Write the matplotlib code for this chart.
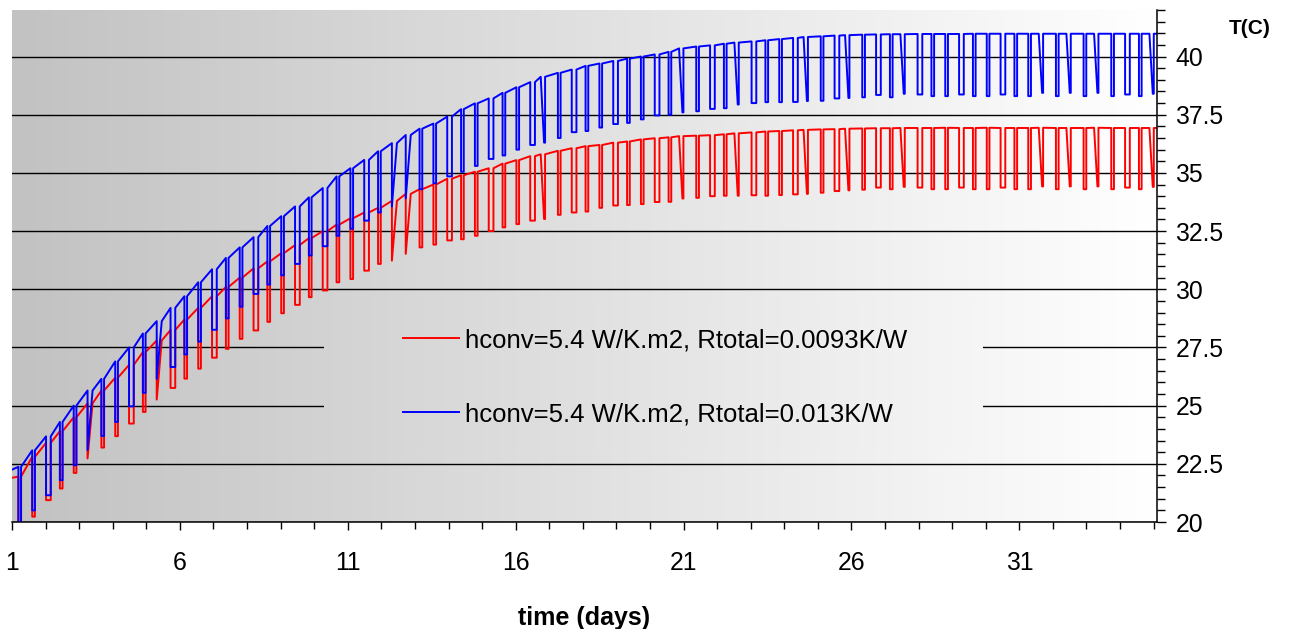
import numpy as np
import matplotlib
matplotlib.use("Agg")
import matplotlib.pyplot as plt
from matplotlib.colors import LinearSegmentedColormap
from matplotlib.patches import Rectangle
from matplotlib.ticker import FixedLocator, MultipleLocator, FuncFormatter

plt.rcParams['font.family'] = ['Liberation Sans', 'DejaVu Sans']

# one load cycle roughly every 10 hours, first drop just after day 1
n_cycles = 83
cycle_days = 1.19 + 0.412 * np.arange(n_cycles)
t_start, t_end = 1.0, 35.1

# dip shape per cycle: n = short spike, r = flat bottom, s = slow recovery, d = slow drop
shapes = ("nnrnnsnnrn" "srnnrnnrnn" "rnrnnrnssn" "nrnnrnnrdn" "rnnrnnrndn"
          "rndrnnrdnr" "dnrndrnnrn" "nrnndndndn" "rnd")

# Rtotal = 0.013 K/W : level just before each dip and bottom of the dip
blue_start = 22.25
blue_top = [22.37, 23.08, 23.68, 24.30, 25.00, 25.65, 26.15, 26.90, 27.50, 28.10,
            28.63, 29.20, 29.70, 30.30, 30.86, 31.35, 31.80, 32.24, 32.72, 33.14,
            33.56, 33.95, 34.35, 34.85, 35.20, 35.56, 35.93, 36.28, 36.63, 36.90,
            37.12, 37.42, 37.74, 37.99, 38.20, 38.44, 38.68, 38.90, 39.13, 39.30,
            39.44, 39.60, 39.70, 39.81, 39.91, 40.00, 40.09, 40.20, 40.35, 40.43,
            40.48, 40.55, 40.60, 40.65, 40.70, 40.75, 40.80, 40.84, 40.87, 40.90,
            40.92, 40.94, 40.95, 40.96, 40.96, 40.97, 40.97, 40.97, 40.97, 40.98,
            40.98, 40.98, 40.98, 40.98, 40.98, 40.98, 40.98, 40.98, 40.98, 40.98,
            40.98, 40.98, 40.98]
blue_low = [19.60, 20.50, 21.15, 21.80, 22.44, 23.09, 23.70, 24.30, 24.97, 25.55,
            26.15, 26.66, 27.20, 27.75, 28.26, 28.75, 29.25, 29.80, 30.20, 30.60,
            31.09, 31.45, 31.85, 32.30, 32.60, 32.95, 33.30, 33.55, 33.90, 34.30,
            34.55, 34.85, 35.05, 35.30, 35.60, 35.75, 36.00, 36.20, 36.30, 36.50,
            36.75, 36.80, 36.95, 37.10, 37.15, 37.30, 37.47, 37.50, 37.60, 37.65,
            37.75, 37.78, 37.94, 38.00, 38.04, 38.04, 38.05, 38.09, 38.10, 38.20,
            38.22, 38.25, 38.35, 38.25, 38.40, 38.37, 38.30, 38.30, 38.37, 38.30,
            38.30, 38.37, 38.30, 38.30, 38.44, 38.30, 38.44, 38.30, 38.44, 38.30,
            38.37, 38.30, 38.40]

# Rtotal = 0.0093 K/W
red_start = 21.90
red_top = [21.95, 22.80, 23.40, 23.90, 24.50, 25.10, 25.65, 26.20, 26.75, 27.30,
           27.80, 28.25, 28.70, 29.20, 29.70, 30.10, 30.50, 30.90, 31.20, 31.55,
           31.90, 32.20, 32.50, 32.78, 33.05, 33.30, 33.50, 33.80, 34.10, 34.30,
           34.50, 34.75, 34.90, 35.05, 35.20, 35.40, 35.55, 35.72, 35.80, 35.95,
           36.06, 36.15, 36.20, 36.30, 36.35, 36.44, 36.49, 36.53, 36.58, 36.60,
           36.62, 36.66, 36.70, 36.74, 36.78, 36.80, 36.83, 36.85, 36.87, 36.88,
           36.90, 36.91, 36.92, 36.92, 36.93, 36.93, 36.93, 36.94, 36.93, 36.93,
           36.94, 36.93, 36.93, 36.93, 36.94, 36.93, 36.93, 36.93, 36.94, 36.93,
           36.93, 36.93, 36.93]
red_low = [19.50, 20.23, 20.94, 21.44, 22.11, 22.73, 23.20, 23.69, 24.23, 24.73,
           25.26, 25.76, 26.16, 26.59, 27.06, 27.44, 27.87, 28.23, 28.60, 28.97,
           29.33, 29.66, 29.95, 30.30, 30.44, 30.80, 31.09, 31.23, 31.52, 31.80,
           31.92, 32.10, 32.15, 32.30, 32.50, 32.66, 32.80, 32.95, 33.02, 33.20,
           33.30, 33.34, 33.50, 33.60, 33.62, 33.66, 33.75, 33.76, 33.90, 33.93,
           34.00, 34.02, 34.02, 34.04, 34.02, 34.05, 34.08, 34.10, 34.15, 34.22,
           34.25, 34.28, 34.37, 34.30, 34.40, 34.37, 34.30, 34.30, 34.37, 34.30,
           34.30, 34.37, 34.30, 34.30, 34.42, 34.30, 34.42, 34.30, 34.42, 34.30,
           34.37, 34.30, 34.40]

labels = ["hconv=5.4 W/K.m2, Rtotal=0.0093K/W", "hconv=5.4 W/K.m2, Rtotal=0.013K/W"]


def trace(start, tops, lows):
    xs, ys = [t_start], [start]
    for t, top, low, s in zip(cycle_days, tops, lows, shapes):
        if s == 'd':
            xs += [t - 0.1, t, t + 0.03, t + 0.03]
            ys += [top, low, low, top]
        elif s == 's':
            xs += [t, t, t + 0.15]
            ys += [top, low, top]
        else:
            w = 0.14 if s == 'r' else 0.08
            xs += [t, t, t + w, t + w]
            ys += [top, low, low, top]
    xs.append(t_end)
    ys.append(tops[-1])
    return xs, ys


fig = plt.figure(figsize=(12.9, 6.29), dpi=100)
ax = fig.add_axes([12 / 1290, 107 / 629, 1145 / 1290, 512 / 629])

# grey-to-white background, repeated behind the legend so it hides the grid there
grad = np.linspace(0, 1, 256).reshape(1, -1)
bg = LinearSegmentedColormap.from_list("bg", ["#c2c2c2", "#ffffff"])
ax.imshow(grad, extent=[0, 1, 0, 1], transform=ax.transAxes, aspect='auto',
          cmap=bg, zorder=0)
cover = ax.imshow(grad, extent=[0, 1, 0, 1], transform=ax.transAxes, aspect='auto',
                  cmap=bg, zorder=1)
cover.set_clip_path(Rectangle((0.2725, 0.14), 0.575, 0.294, transform=ax.transAxes))

rx, ry = trace(red_start, red_top, red_low)
bx, by = trace(blue_start, blue_top, blue_low)
ax.plot(rx, ry, color='#ff0000', lw=1.4, zorder=2, label=labels[0])
ax.plot(bx, by, color='#0000ff', lw=1.4, zorder=2.1, label=labels[1])

ax.set_xlim(t_start, t_end)
ax.set_ylim(20, 42)

ax.set_axisbelow(True)
ax.yaxis.grid(True, which='major', color='black', lw=1.0)
ax.xaxis.grid(False)

for side in ['left', 'top']:
    ax.spines[side].set_visible(False)
for side in ['bottom', 'right']:
    ax.spines[side].set_color('black')
    ax.spines[side].set_linewidth(1.1)

ax.yaxis.tick_right()
ax.yaxis.set_major_locator(FixedLocator([20, 22.5, 25, 27.5, 30, 32.5, 35, 37.5, 40]))
ax.yaxis.set_minor_locator(MultipleLocator(0.5))
ax.yaxis.set_major_formatter(FuncFormatter(lambda v, p: "%g" % v))
ax.xaxis.set_major_locator(FixedLocator([1, 6, 11, 16, 21, 26, 31]))
ax.xaxis.set_minor_locator(MultipleLocator(1))

ax.tick_params(axis='y', which='major', direction='out', length=6.7, width=1.0,
               labelsize=17.8, pad=6.5, colors='black')
ax.tick_params(axis='y', which='minor', direction='out', length=5.5, width=1.0)
ax.tick_params(axis='x', which='major', direction='out', length=6.0, width=1.0,
               labelsize=17.8, pad=15, colors='black')
ax.tick_params(axis='x', which='minor', direction='out', length=4.8, width=1.0)

ax.set_xlabel("time (days)", fontsize=18, fontweight='bold', labelpad=22)
fig.text(1250 / 1290, 1 - 28 / 629, "T(C)", fontsize=15, fontweight='bold',
         ha='center', va='center')

handles, _ = ax.get_legend_handles_labels()
leg = ax.legend(handles, labels, loc='upper left', bbox_to_anchor=(0.3415, 0.378),
                frameon=False, fontsize=18.5, handlelength=2.16, handletextpad=0.24,
                labelspacing=1.94, borderpad=0, borderaxespad=0)
leg.set_zorder(3)

fig.savefig("out.png", dpi=100)
